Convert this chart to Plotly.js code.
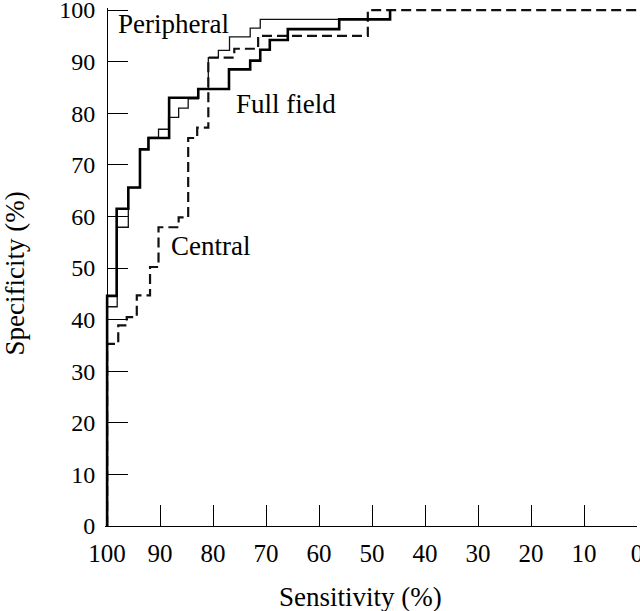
<!DOCTYPE html>
<html>
<head>
<meta charset="utf-8">
<script src="https://cdn.plot.ly/plotly-3.0.1.min.js"></script>
<style>html,body{margin:0;padding:0;background:#fff;}#chart{width:640px;height:611px;}</style>
</head>
<body>
<div id="chart"></div>
<script>
// ROC operating points (sensitivity %, specificity %), drawn as steps
const peripheralSens = [100, 98.1, 96.0, 93.8, 92.2, 90.3, 88.4, 86.5, 84.7, 82.8, 80.9, 79.0, 76.9, 73.0, 71.1, 46.6, 46.6];
const peripheralSpec = [0, 42.5, 57.9, 65.6, 73.0, 75.3, 76.9, 79.2, 81.0, 82.8, 84.7, 90.8, 92.2, 94.8, 96.5, 98.2, 100];

const fullSens = [100, 98.2, 96.0, 93.8, 92.2, 88.3, 82.8, 77.0, 73.0, 71.1, 69.3, 65.9, 56.2, 46.6, 46.6];
const fullSpec = [0, 44.6, 61.5, 65.6, 73.0, 75.2, 83.0, 84.7, 88.5, 90.2, 92.3, 94.2, 96.3, 98.2, 100];

const centralSens = [100, 97.9, 96.3, 94.4, 91.9, 90.3, 86.5, 84.7, 83.0, 80.9, 76.0, 71.5, 50.8, 0];
const centralSpec = [0, 35.3, 38.9, 40.5, 44.7, 50.2, 57.9, 59.8, 75.2, 77.2, 90.8, 92.5, 95.0, 100];

const tickVals = [100, 90, 80, 70, 60, 50, 40, 30, 20, 10, 0];
const tickText = ["100", "90", "80", "70", "60", "50", "40", "30", "20", "10", "0"];

const labelNames = ["Peripheral", "Full field", "Central"];
const labelSens = [98.4, 76.0, 88.4];
const labelSpec = [97.3, 81.8, 54.2];

const xTitle = "Sensitivity (%)";
const yTitle = "Specificity (%)";

const serif = "Liberation Serif, Times New Roman, serif";

const traces = [
  {x: peripheralSens, y: peripheralSpec, mode: "lines", line: {shape: "vh", color: "#111", width: 1.3}, hoverinfo: "skip"},
  {x: centralSens, y: centralSpec, mode: "lines", line: {shape: "vh", color: "#111", width: 2.2, dash: "10px,5px"}, hoverinfo: "skip"},
  {x: fullSens, y: fullSpec, mode: "lines", line: {shape: "vh", color: "#000", width: 2.6}, hoverinfo: "skip"}
];

const annotations = labelNames.map((t, i) => ({
  x: labelSens[i], y: labelSpec[i], xref: "x", yref: "y", text: t, showarrow: false,
  xanchor: "left", yanchor: "middle", font: {family: serif, size: 27, color: "#000"}
}));
annotations.push({
  x: 0.481, y: -0.137, xref: "paper", yref: "paper", text: xTitle, showarrow: false,
  xanchor: "center", yanchor: "middle", font: {family: serif, size: 27, color: "#000"}
});
annotations.push({
  x: -0.169, y: 0.4875, xref: "paper", yref: "paper", text: yTitle, showarrow: false,
  textangle: -90, xanchor: "center", yanchor: "middle", font: {family: serif, size: 27, color: "#000"}
});

const layout = {
  width: 640, height: 611,
  margin: {l: 105, r: 3, t: 8, b: 85},
  paper_bgcolor: "#fff", plot_bgcolor: "#fff",
  showlegend: false,
  font: {family: serif, color: "#000"},
  xaxis: {
    range: [100.4, 0], tickvals: tickVals, ticktext: tickText,
    ticks: "inside", ticklen: 21, tickwidth: 1, tickcolor: "#000",
    showline: true, linecolor: "#000", linewidth: 1.2,
    showgrid: false, zeroline: false,
    tickfont: {family: serif, size: 25, color: "#000"},
    ticklabelstandoff: 5,
    ticklabeloverflow: "allow",
    automargin: false
  },
  yaxis: {
    range: [0, 100.4], tickvals: tickVals, ticktext: tickText,
    anchor: "free", position: 2 / 532,
    ticks: "inside", ticklen: 20, tickwidth: 1, tickcolor: "#000",
    showline: true, linecolor: "#000", linewidth: 1.2,
    showgrid: false, zeroline: false,
    tickfont: {family: serif, size: 24, color: "#000"},
    ticklabelstandoff: 7,
    ticklabeloverflow: "allow",
    automargin: false
  },
  annotations: annotations
};

Plotly.newPlot("chart", traces, layout, {displayModeBar: false, staticPlot: true});
</script>
</body>
</html>
